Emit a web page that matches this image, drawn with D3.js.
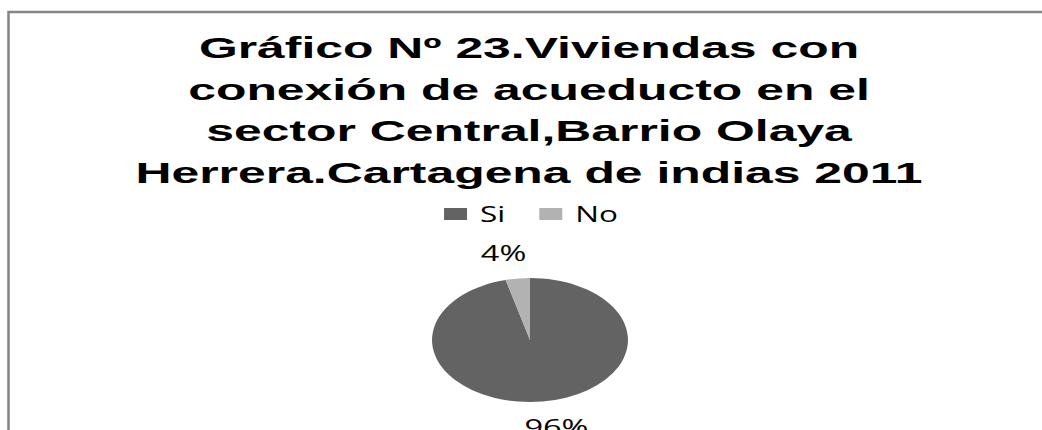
<!DOCTYPE html>
<html>
<head>
<meta charset="utf-8">
<script src="https://cdn.jsdelivr.net/npm/d3@7"></script>
<style>
  html, body { margin: 0; padding: 0; background: #fff; }
  svg { display: block; }
</style>
</head>
<body>
<svg id="chart" width="1042" height="430"></svg>
<script>
// DATA
const titleLines = [
  "Gráfico Nº 23.Viviendas con",
  "conexión de acueducto en el",
  "sector Central,Barrio Olaya",
  "Herrera.Cartagena de indias 2011"
];
const categories = ["Si", "No"];
const values = [96, 4];
const labels = ["96%", "4%"];
const colors = ["#636363", "#b2b2b2"];

// CANVAS SETUP
const width = 1042,
  height = 430,
  cx = 530,
  cy = 340,
  radius = 62,
  stretch = 1.58; // the original picture is stretched sideways

const svg = d3.select("#chart");

// frame (only top and left edges fall inside the view)
svg.append("rect")
  .attr("x", 8.5)
  .attr("y", 12)
  .attr("width", width + 20)
  .attr("height", height + 20)
  .attr("fill", "none")
  .attr("stroke", "#858585")
  .attr("stroke-width", 2.5);

// TITLE
const titleG = svg.append("g").attr("class", "title");
titleLines.forEach((line, i) => {
  titleG.append("g")
    .attr("transform", `translate(529,${58 + i * 41.7}) scale(1.72,1)`)
    .append("text")
    .attr("text-anchor", "middle")
    .style("font-family", "'Liberation Sans', Arial, sans-serif")
    .style("font-weight", "bold")
    .style("font-size", "29px")
    .attr("fill", "#000")
    .text(line);
});

// LEGEND
const legendScale = 1.5;
const legend = svg.append("g");
const legendInner = legend.append("g").attr("transform", `scale(${legendScale},1)`);
let lx = 0;
categories.forEach((c, i) => {
  legendInner.append("rect")
    .attr("x", lx)
    .attr("y", 208)
    .attr("width", 15.3)
    .attr("height", 12)
    .attr("fill", colors[i]);
  const t = legendInner.append("text")
    .attr("x", lx + 24)
    .attr("y", 222)
    .style("font-family", "'Open Sans', sans-serif")
    .style("font-size", "21px")
    .attr("fill", "#000")
    .text(c);
  lx += 24 + t.node().getComputedTextLength() + 22.7;
});
const legendW = (lx - 22.7) * legendScale;
legend.attr("transform", `translate(${531 - legendW / 2},0)`);

// PIE
const pie = d3.pie().sort(null).value((d) => d.value);
const data = pie(categories.map((c, i) => ({ key: c, value: values[i], label: labels[i] })));

const arc = d3.arc().innerRadius(0).outerRadius(radius);
const labelArc = d3.arc().innerRadius(88).outerRadius(88);

const pieG = svg.append("g")
  .attr("transform", `translate(${cx},${cy}) scale(${stretch},1)`);

pieG.selectAll("path")
  .data(data)
  .join("path")
  .attr("d", arc)
  .attr("fill", (d, i) => colors[i]);

// DATA LABELS
svg.selectAll("g.lbl")
  .data(data)
  .join("g")
  .attr("class", "lbl")
  .attr("transform", (d) => {
    const [x, y] = labelArc.centroid(d);
    const px = cx + x * stretch + Math.sign(x) * 9;
    const py = cy + y + 8;
    return `translate(${px},${py}) scale(1.55,1)`;
  })
  .append("text")
  .attr("text-anchor", "middle")
  .style("font-family", "'Open Sans', sans-serif")
  .style("font-size", "21px")
  .attr("fill", "#000")
  .text((d) => d.data.label);
</script>
</body>
</html>
